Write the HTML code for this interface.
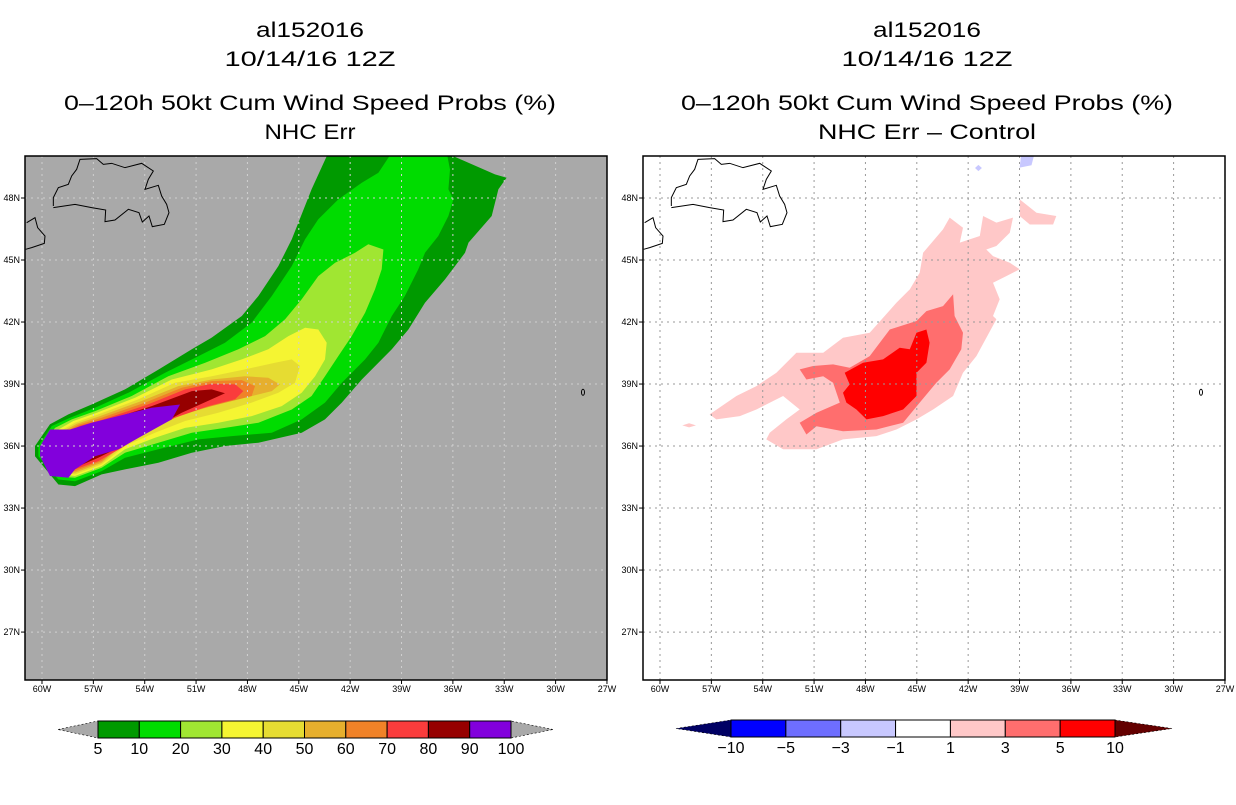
<!DOCTYPE html>
<html><head><meta charset="utf-8">
<style>
html,body{margin:0;padding:0;background:#fff;}
body{width:1236px;height:800px;overflow:hidden;font-family:"Liberation Sans",sans-serif;}
svg text{font-family:"Liberation Sans",sans-serif;fill:#000;}
</style></head>
<body>
<svg id="chart" width="1236" height="800" viewBox="0 0 1236 800" xmlns="http://www.w3.org/2000/svg">
<defs>
<clipPath id="clipL"><rect x="25" y="156" width="582" height="524"/></clipPath>
<clipPath id="clipR"><rect x="643" y="156" width="582" height="524"/></clipPath>
</defs>
<g font-size="21" text-anchor="middle">
<text x="310" y="37" textLength="108" lengthAdjust="spacingAndGlyphs">al152016</text>
<text x="310" y="66" textLength="171" lengthAdjust="spacingAndGlyphs">10/14/16 12Z</text>
<text x="310" y="110" textLength="492" lengthAdjust="spacingAndGlyphs">0–120h 50kt Cum Wind Speed Probs (%)</text>
<text x="310" y="139" textLength="91" lengthAdjust="spacingAndGlyphs">NHC Err</text>
</g>
<g font-size="21" text-anchor="middle">
<text x="927" y="37" textLength="108" lengthAdjust="spacingAndGlyphs">al152016</text>
<text x="927" y="66" textLength="171" lengthAdjust="spacingAndGlyphs">10/14/16 12Z</text>
<text x="927" y="110" textLength="492" lengthAdjust="spacingAndGlyphs">0–120h 50kt Cum Wind Speed Probs (%)</text>
<text x="927" y="139" textLength="218" lengthAdjust="spacingAndGlyphs">NHC Err – Control</text>
</g>
<rect x="25" y="156" width="582" height="524" fill="#a9a9a9"/>
<rect x="643" y="156" width="582" height="524" fill="#fff"/>
<g id="leftFill" clip-path="url(#clipL)"></g>
<g id="rightFill" clip-path="url(#clipR)"></g>
<g id="grid"></g>
<g id="coasts"></g>
<rect x="25" y="156" width="582" height="524" fill="none" stroke="#000" stroke-width="1.5"/>
<rect x="643" y="156" width="582" height="524" fill="none" stroke="#000" stroke-width="1.5"/>
<g id="axes" font-size="9"></g>
<g id="cbars" font-size="16"></g>
</svg>
<script>
// ---- data ----
const lonTicks = [60,57,54,51,48,45,42,39,36,33,30,27];
const latTicks = [27,30,33,36,39,42,45,48];
const leftLevels = [5,10,20,30,40,50,60,70,80,90,100];
const leftColors = ["#009a00","#00dc00","#a0e632","#f5f532","#e6dc32","#e6af2d","#f08228","#fa3c3c","#960000","#8200dc"];
const rightLevels = [-10,-5,-3,-1,1,3,5,10];
const rightColors = ["#0000ff","#6e6eff","#c8c8ff","#ffffff","#ffc8c8","#ff6e6e","#ff0000"];
// contour polygons [lonW, latN]
const p5 = [[60.41,36.0],[59.53,37.05],[58.46,37.53],[57.10,38.01],[55.15,38.74],[53.2,39.7],[51.25,40.68],[50.1,41.24],[48.33,42.29],[47.36,43.26],[46.19,44.71],[45.41,46.0],[44.25,48.42],[43.27,50.2],[36.46,50.2],[33.54,49.14],[32.86,48.98],[33.34,48.42],[33.73,47.13],[35.09,45.84],[35.29,45.35],[36.46,44.06],[37.63,42.93],[38.6,41.64],[39.57,40.68],[41.32,39.22],[42.49,38.1],[43.47,37.29],[44.83,36.64],[47.36,36.16],[49.31,36.0],[51.25,35.68],[53.2,35.19],[55.15,34.87],[56.51,34.63],[58.07,34.06],[59.04,34.14],[60.41,35.51]];
const p10 = [[60.21,36.0],[59.43,36.97],[58.36,37.37],[56.9,37.85],[54.95,38.58],[52.81,39.55],[50.86,40.35],[49.31,41.0],[47.75,41.97],[46.58,43.26],[45.41,44.71],[44.63,46.0],[43.86,46.97],[42.69,47.93],[41.32,48.74],[40.35,49.22],[39.57,50.2],[36.36,50.2],[36.17,49.38],[36.26,48.42],[35.97,47.93],[36.26,47.13],[36.85,46.16],[37.63,45.35],[38.02,44.55],[38.8,43.26],[39.57,42.29],[40.35,41.0],[41.13,40.19],[42.49,39.06],[43.47,38.1],[44.83,37.29],[46.58,36.64],[48.92,36.48],[50.86,36.32],[53.2,35.84],[55.15,35.43],[56.51,34.79],[58.07,34.3],[59.04,34.38],[60.21,35.51]];
const p20 = [[60.02,36.0],[59.24,36.88],[58.26,37.29],[56.9,37.69],[54.76,38.42],[52.62,39.38],[50.47,40.03],[48.53,40.68],[46.97,41.32],[45.8,42.13],[44.83,43.1],[43.86,44.22],[42.88,44.87],[41.72,45.35],[40.94,45.76],[40.06,45.51],[40.16,44.55],[40.55,43.58],[41.13,42.45],[41.91,41.32],[42.69,40.35],[43.47,39.38],[44.25,38.42],[45.41,37.77],[47.36,37.13],[49.31,36.88],[51.25,36.64],[53.2,36.16],[55.15,35.68],[56.51,34.95],[58.07,34.47],[59.04,34.51],[60.02,35.59]];
const p30 = [[59.82,36.0],[59.04,36.8],[58.17,37.21],[56.8,37.61],[54.56,38.34],[52.42,39.22],[50.09,39.71],[48.33,40.19],[46.78,40.68],[45.61,41.32],[44.63,41.72],[43.86,41.64],[43.37,41.0],[43.47,40.19],[44.05,39.38],[44.83,38.58],[46.0,37.93],[47.75,37.45],[49.7,37.13],[51.64,36.88],[53.4,36.4],[55.15,35.84],[56.51,35.03],[58.07,34.55],[58.95,34.63],[59.82,35.63]];
const p40 = [[59.63,36.0],[58.95,36.72],[58.07,37.13],[56.71,37.53],[54.37,38.26],[52.23,39.06],[50.09,39.38],[48.14,39.71],[46.39,40.03],[45.41,40.19],[44.93,39.87],[45.22,39.06],[46.19,38.58],[47.75,38.1],[49.7,37.61],[51.64,37.21],[53.4,36.64],[55.15,36.0],[56.51,35.11],[58.07,34.63],[58.85,34.71],[59.63,35.67]];
const p50 = [[59.43,36.0],[58.85,36.68],[57.97,37.08],[56.61,37.45],[54.18,38.18],[52.03,38.9],[50.09,39.22],[48.14,39.38],[46.78,39.3],[46.1,38.98],[46.58,38.66],[48.14,38.34],[50.09,37.93],[52.03,37.45],[53.59,36.8],[55.15,36.16],[56.51,35.19],[58.07,34.71],[58.75,34.79],[59.43,35.71]];
const p60 = [[59.24,36.0],[58.75,36.64],[57.87,37.03],[56.51,37.37],[53.98,38.1],[51.84,38.82],[50.09,39.14],[48.33,39.19],[47.56,38.9],[47.75,38.42],[49.31,38.1],[51.25,37.69],[53.2,37.13],[54.95,36.32],[56.51,35.27],[58.07,34.79],[58.69,34.87],[59.24,35.76]];
const p70 = [[59.04,36.0],[58.65,36.6],[57.78,36.98],[56.41,37.29],[53.79,38.02],[51.64,38.74],[50.09,39.01],[48.72,38.98],[48.24,38.66],[48.72,38.26],[50.28,37.93],[52.23,37.37],[53.98,36.64],[55.34,35.92],[56.71,35.27],[58.07,34.87],[58.65,34.95],[59.04,35.8]];
const p80 = [[58.85,36.0],[58.46,36.55],[57.68,36.93],[56.32,37.21],[53.59,37.93],[51.25,38.66],[50.09,38.74],[49.31,38.55],[50.09,38.26],[51.84,37.61],[53.59,36.8],[55.15,36.08],[56.71,35.43],[58.07,34.95],[58.56,35.03],[58.85,35.84]];
const p90 = [[60.11,36.0],[59.53,36.8],[58.36,36.8],[57.1,37.13],[55.15,37.53],[53.59,37.85],[51.94,38.01],[52.42,37.29],[54.18,36.48],[55.54,35.84],[56.9,35.51],[58.07,34.87],[58.46,34.47],[59.53,34.55],[60.11,35.51]];
const d1 = [[57.1,37.53],[55.54,38.42],[54.37,38.9],[53.2,39.55],[52.03,40.51],[50.47,40.51],[49.31,41.24],[47.75,41.48],[46.19,42.93],[45.41,43.58],[44.83,44.38],[44.63,45.35],[43.47,46.48],[43.08,47.05],[42.3,46.56],[42.49,45.84],[41.32,46.16],[41.13,47.13],[40.35,46.81],[39.38,47.05],[39.57,46.32],[40.35,45.68],[40.94,45.51],[40.55,45.19],[39.57,44.87],[38.99,44.55],[39.77,44.22],[40.55,43.9],[40.16,43.1],[40.55,42.29],[40.35,42.13],[41.52,40.35],[42.3,39.55],[42.88,38.42],[44.05,37.77],[45.02,37.29],[46.19,36.8],[47.36,36.48],[49.31,36.32],[50.86,35.84],[52.81,35.84],[53.79,36.32],[53.59,36.64],[52.62,37.29],[51.84,37.77],[52.81,38.42],[54.37,37.77],[55.34,37.45],[56.71,37.29]];
const d1b = [[38.99,47.93],[38.01,47.29],[36.85,47.13],[37.04,46.72],[38.4,46.72],[38.99,47.13]];
const d1c = [[58.3,36.9],[57.9,37.0],[58.3,37.1],[58.7,37.0]];
const d3 = [[51.84,39.71],[51.06,39.87],[49.89,39.95],[48.92,39.79],[47.75,40.35],[46.58,41.64],[45.02,42.05],[44.44,42.53],[43.47,42.77],[42.88,43.34],[42.79,42.29],[42.3,41.48],[42.4,40.68],[43.08,39.71],[43.86,39.06],[44.83,38.1],[45.8,37.13],[47.36,36.8],[49.31,36.72],[50.86,36.96],[51.45,36.56],[51.84,37.13],[50.86,37.61],[49.5,38.1],[49.89,39.06],[50.47,39.38],[51.45,39.22]];
const d5 = [[49.21,39.55],[48.14,40.03],[46.97,40.19],[46.0,40.76],[45.41,40.68],[45.02,41.48],[44.44,41.64],[44.25,41.0],[44.44,40.03],[45.02,39.55],[45.02,38.42],[45.8,37.77],[46.97,37.45],[47.94,37.29],[48.53,37.77],[49.11,38.1],[49.31,38.58],[48.92,38.98]];
const dneg1 = [[38.99,49.47],[38.89,50.2],[38.11,50.2],[38.3,49.58]];
const dneg2 = [[41.6,49.45],[41.4,49.6],[41.2,49.45],[41.4,49.3]];

// ---- axis functions ----
const NS="http://www.w3.org/2000/svg";
function xs(px0,w){return px0+17+(60-w)*17.12;}
function ys(lat){return 198+(48-lat)*20.67;}
function mk(tag,attrs,parent){const e=document.createElementNS(NS,tag);for(const k in attrs)e.setAttribute(k,attrs[k]);parent.appendChild(e);return e;}
function poly(px0,pts,fill,parent,name){
  const p=mk('polygon',{points:pts.map(q=>xs(px0,q[0]).toFixed(1)+','+ys(q[1]).toFixed(1)).join(' '),fill:fill},parent);
  
  
}
const LF=document.getElementById('leftFill');
const leftPolys=[p5,p10,p20,p30,p40,p50,p60,p70,p80,p90];
leftPolys.forEach((pp,i)=>poly(25,pp,leftColors[i],LF,'prob-contour-'+leftLevels[i]));
const RF=document.getElementById('rightFill');
poly(643,d1,rightColors[4],RF,'diff-contour-1');
poly(643,d1b,rightColors[4],RF,'diff-contour-1-north');
poly(643,d1c,rightColors[4],RF,'diff-contour-1-west');
poly(643,d3,rightColors[5],RF,'diff-contour-3');
poly(643,d5,rightColors[6],RF,'diff-contour-5');
poly(643,dneg1,rightColors[2],RF,'diff-contour-neg1');
poly(643,dneg2,rightColors[2],RF,'diff-contour-neg1-small');

// grid
const G=document.getElementById('grid');
[[25,'#d0d0d0','url(#clipL)'],[643,'#999','url(#clipR)']].forEach(([px0,col,clip])=>{
  const g=mk('g',{'clip-path':clip,stroke:col,'stroke-width':1,'stroke-dasharray':'2,4'},G);
  
  
  lonTicks.forEach(w=>{const x=xs(px0,w);mk('line',{x1:x,x2:x,y1:156,y2:680},g);});
  latTicks.forEach(l=>{const y=ys(l);mk('line',{x1:px0,x2:px0+582,y1:y,y2:y},g);});
});

// coastlines (schematic, zoom-px units)
const nfld="85,150 85,125 100,95 130,85 140,60 155,40 165,10 215,8 235,25 260,22 300,35 350,22 385,45 370,70 360,100 400,88 410,120 425,145 432,170 418,205 382,212 372,180 352,198 342,170 310,160 270,192 240,197 242,162 200,155 150,145 85,155";
const cb="5,200 30,185 38,215 60,240 58,262 20,275 2,280";
const C=document.getElementById('coasts');
[25,643].forEach(px0=>{
  const g=mk('g',{transform:'translate('+px0+',156) scale(0.3333)',fill:'none',stroke:'#000','stroke-width':3},C);
  
  
  mk('polyline',{points:nfld},g);
  mk('polyline',{points:cb},g);
  const az=mk('ellipse',{cx:xs(px0,28.4),cy:ys(38.6),rx:1.5,ry:3,fill:'none',stroke:'#000','stroke-width':1},C);
  
  
});

// axes labels
const A=document.getElementById('axes');
[25,643].forEach(px0=>{
  lonTicks.forEach(w=>{
    const x=xs(px0,w);
    mk('line',{x1:x,x2:x,y1:680,y2:684,stroke:'#000'},A);
    const t=mk('text',{x:x,y:692,'text-anchor':'middle'},A);t.textContent=w+'W';
    
    
  });
  latTicks.forEach(l=>{
    const y=ys(l);
    mk('line',{x1:px0-4,x2:px0,y1:y,y2:y,stroke:'#000'},A);
    const t=mk('text',{x:px0-5,y:y+3,'text-anchor':'end'},A);t.textContent=l+'N';
    
    
  });
});

// colorbars
const CB=document.getElementById('cbars');
function cbar(x0,x1,tipL,tipR,y0,y1,levels,colors,lcol,rcol,name){
  const g=mk('g',{},CB);
  
  
  const ym=(y0+y1)/2,n=colors.length,bw=(x1-x0)/n;
  mk('polygon',{points:`${tipL},${ym} ${x0},${y0} ${x0},${y1}`,fill:lcol,stroke:'#000','stroke-width':0.6,'stroke-dasharray':'2,2'},g);
  mk('polygon',{points:`${tipR},${ym} ${x1},${y0} ${x1},${y1}`,fill:rcol,stroke:'#000','stroke-width':0.6,'stroke-dasharray':'2,2'},g);
  colors.forEach((c,i)=>mk('rect',{x:x0+i*bw,y:y0,width:bw,height:y1-y0,fill:c,stroke:'#000','stroke-width':1},g));
  levels.forEach((v,i)=>{const t=mk('text',{x:x0+i*bw,y:y1+16,'text-anchor':'middle'},g);t.textContent=(v<0?'−'+(-v):v);});
}
cbar(98,511,58,553,721,738,leftLevels,leftColors,'#a9a9a9','#a9a9a9','left-colorbar');
cbar(731,1115,676,1172,720,737,rightLevels,rightColors,'#000064','#640000','right-colorbar');
</script>
</body></html>
